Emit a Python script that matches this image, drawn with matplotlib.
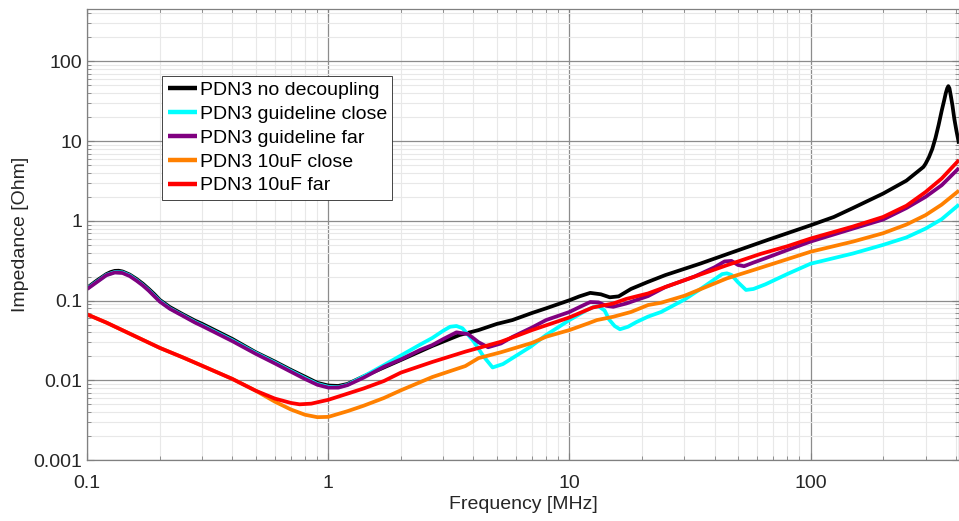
import matplotlib
matplotlib.use("Agg")
import matplotlib.pyplot as plt
from matplotlib.ticker import FixedLocator, LogLocator, NullFormatter, FuncFormatter


# values (frequency in MHz, impedance in Ohm)
NODEC_F = [0.1, 0.11, 0.12, 0.125, 0.13, 0.135, 0.14, 0.15, 0.16, 0.17, 0.18, 0.19, 0.2,
           0.22, 0.25, 0.28, 0.3, 0.4, 0.5, 0.6, 0.7, 0.8, 0.9, 1.0, 1.1, 1.2, 1.4, 1.7,
           2.0, 2.7, 3.5, 4.2, 5.0, 5.8, 7.0, 8.0, 10, 11, 12.2, 13.5, 14.7, 16, 18, 21,
           25, 35, 48, 66, 100, 125, 150, 200, 250, 294, 300, 310, 320, 330, 340, 350,
           358, 364, 369, 373, 377, 382, 388, 395, 403, 413]
NODEC_Z = [0.145, 0.18, 0.215, 0.228, 0.236, 0.237, 0.232, 0.212, 0.187, 0.163, 0.14,
           0.12, 0.102, 0.083, 0.067, 0.056, 0.051, 0.033, 0.0225, 0.0172, 0.0135, 0.0111,
           0.0093, 0.0086, 0.0085, 0.009, 0.0112, 0.0145, 0.018, 0.027, 0.037, 0.0427,
           0.051, 0.057, 0.07, 0.08, 0.101, 0.113, 0.125, 0.12, 0.11, 0.113, 0.14, 0.17,
           0.209, 0.292, 0.409, 0.573, 0.88, 1.12, 1.45, 2.2, 3.2, 4.75, 5.2, 6.3, 8.0,
           11, 16, 24, 32, 40, 46, 49, 46, 37, 28, 19, 13.5, 9.3]

GCLOSE_F = [0.1, 0.12, 0.13, 0.14, 0.15, 0.16, 0.17, 0.18, 0.19, 0.2, 0.22, 0.25, 0.28,
            0.3, 0.4, 0.5, 0.6, 0.7, 0.8, 0.9, 1.0, 1.1, 1.2, 1.4, 1.7, 2.0, 2.4, 2.7, 3.0,
            3.2, 3.4, 3.6, 4.0, 4.4, 4.8, 5.3, 5.8, 6.9, 8.0, 10, 11.8, 12.6, 13.2, 14.0,
            14.6, 15.4, 16.2, 17.5, 19, 21.2, 24, 30, 35, 40, 43, 45, 47, 50, 54, 58, 65,
            80, 100, 150, 200, 250, 300, 350, 413]
GCLOSE_Z = [0.142, 0.21, 0.228, 0.226, 0.207, 0.181, 0.157, 0.135, 0.115, 0.099, 0.08,
            0.065, 0.054, 0.049, 0.0318, 0.022, 0.0167, 0.0131, 0.0107, 0.009, 0.0083,
            0.0082, 0.0088, 0.0112, 0.0155, 0.0205, 0.028, 0.034, 0.042, 0.047, 0.048,
            0.045, 0.031, 0.02, 0.0145, 0.016, 0.019, 0.0264, 0.037, 0.057, 0.076, 0.083,
            0.085, 0.075, 0.058, 0.048, 0.0437, 0.047, 0.054, 0.063, 0.072, 0.103, 0.14,
            0.185, 0.215, 0.22, 0.21, 0.17, 0.136, 0.14, 0.16, 0.215, 0.29, 0.39, 0.5,
            0.62, 0.8, 1.05, 1.6]

GFAR_F = [0.1, 0.12, 0.13, 0.14, 0.15, 0.16, 0.17, 0.18, 0.19, 0.2, 0.22, 0.25, 0.28, 0.3,
          0.4, 0.5, 0.6, 0.7, 0.8, 0.9, 1.0, 1.1, 1.2, 1.4, 1.7, 2.0, 2.4, 2.7, 3.0, 3.4,
          3.8, 4.2, 4.6, 5.2, 5.8, 7.0, 8.0, 10, 11.2, 12.2, 13.2, 14.2, 15.2, 17.2, 21.2,
          25, 33, 40, 44, 47, 50, 53, 58, 65, 80, 100, 150, 200, 250, 300, 350, 413]
GFAR_Z = [0.14, 0.208, 0.225, 0.222, 0.203, 0.178, 0.155, 0.133, 0.113, 0.097, 0.079,
          0.064, 0.053, 0.048, 0.031, 0.0215, 0.0163, 0.0128, 0.0104, 0.0088, 0.0081,
          0.0081, 0.0087, 0.0108, 0.0148, 0.0183, 0.024, 0.0277, 0.033, 0.04, 0.038, 0.03,
          0.026, 0.029, 0.035, 0.046, 0.057, 0.072, 0.085, 0.096, 0.095, 0.086, 0.0836,
          0.092, 0.114, 0.148, 0.2, 0.262, 0.31, 0.315, 0.28, 0.27, 0.3, 0.34, 0.43, 0.55,
          0.8, 1.04, 1.45, 2.0, 2.8, 4.6]

CLOSE10U_F = [0.1, 0.12, 0.15, 0.2, 0.25, 0.3, 0.4, 0.5, 0.6, 0.7, 0.8, 0.9, 1.0, 1.2, 1.4,
              1.7, 2.0, 2.7, 3.7, 4.2, 5.2, 7.0, 8.0, 10, 12, 13, 15.2, 18, 21.2, 24, 30,
              45, 60, 100, 150, 200, 250, 300, 350, 413]
CLOSE10U_Z = [0.067, 0.053, 0.0385, 0.0255, 0.0193, 0.0152, 0.0104, 0.0074, 0.0054,
              0.0043, 0.0037, 0.00345, 0.00348, 0.0041, 0.0048, 0.006, 0.0075, 0.011,
              0.0151, 0.019, 0.0225, 0.0295, 0.0352, 0.0427, 0.052, 0.057, 0.0627, 0.072,
              0.088, 0.094, 0.115, 0.19, 0.25, 0.41, 0.55, 0.7, 0.9, 1.18, 1.6, 2.4]

FAR10U_F = [0.1, 0.12, 0.15, 0.2, 0.25, 0.3, 0.4, 0.5, 0.6, 0.7, 0.76, 0.85, 1.0, 1.2, 1.4,
            1.7, 2.0, 2.7, 3.7, 5.2, 7.0, 10, 12.5, 15.2, 17.2, 21.2, 25, 33, 45, 52.5, 62,
            80, 100, 150, 200, 250, 300, 350, 413]
FAR10U_Z = [0.067, 0.053, 0.0385, 0.0255, 0.0193, 0.0152, 0.0104, 0.0074, 0.0059, 0.0052,
            0.005, 0.0051, 0.0057, 0.0068, 0.0079, 0.0098, 0.0125, 0.017, 0.0229, 0.0305,
            0.0427, 0.0615, 0.082, 0.092, 0.105, 0.123, 0.148, 0.2, 0.278, 0.325, 0.385,
            0.48, 0.6, 0.85, 1.12, 1.55, 2.3, 3.4, 5.8]

SERIES = [
    ("PDN3 no decoupling", NODEC_F, NODEC_Z, "#000000"),
    ("PDN3 guideline close", GCLOSE_F, GCLOSE_Z, "#00ffff"),
    ("PDN3 guideline far", GFAR_F, GFAR_Z, "#800080"),
    ("PDN3 10uF close", CLOSE10U_F, CLOSE10U_Z, "#ff8000"),
    ("PDN3 10uF far", FAR10U_F, FAR10U_Z, "#ff0000"),
]

X_TICKS = [0.1, 1, 10, 100]
Y_TICKS = [0.001, 0.01, 0.1, 1, 10, 100]


def style_axes(ax):
    ax.set_xscale("log")
    ax.set_yscale("log")
    ax.set_xlim(0.1, 413)
    ax.set_ylim(0.001, 450)

    fmt = FuncFormatter(lambda v, _: f"{v:g}")
    ax.xaxis.set_major_locator(FixedLocator(X_TICKS))
    ax.yaxis.set_major_locator(FixedLocator(Y_TICKS))
    ax.xaxis.set_major_formatter(fmt)
    ax.yaxis.set_major_formatter(fmt)
    for axis in (ax.xaxis, ax.yaxis):
        axis.set_minor_locator(LogLocator(base=10, subs=range(2, 10), numticks=20))
        axis.set_minor_formatter(NullFormatter())

    ax.grid(which="major", color="#8c8c8c", linewidth=0.9)
    ax.grid(which="minor", color="#e8e8e8", linewidth=0.8)
    ax.set_axisbelow(True)

    for spine in ax.spines.values():
        spine.set_color("#808080")
        spine.set_linewidth(0.9)
    ax.tick_params(which="both", direction="in", top=True, right=True,
                   colors="#808080", labelcolor="#262626", labelsize=14)
    ax.tick_params(which="major", length=5)
    ax.tick_params(which="minor", length=3)
    ax.tick_params(axis="x", which="major", pad=11)

    ax.set_xlabel("Frequency [MHz]", fontsize=14, color="#262626", labelpad=3)
    ax.set_ylabel("Impedance [Ohm]", fontsize=14, color="#262626", labelpad=3)


def main():
    plt.rcParams["font.family"] = ["Liberation Sans", "DejaVu Sans"]
    fig = plt.figure(figsize=(9.59, 5.21), dpi=100)
    ax = fig.add_axes([0.091, 0.117, 0.909, 0.865])

    for label, freq, imp, color in SERIES:
        ax.plot(freq, imp, color=color, linewidth=2.7, label=label,
                solid_joinstyle="round", solid_capstyle="butt")

    style_axes(ax)

    leg = ax.legend(loc="upper left", bbox_to_anchor=(0.086, 0.852), fontsize=14,
                    frameon=True, fancybox=False, framealpha=1, edgecolor="#262626",
                    borderpad=0.28, labelspacing=0.32, handlelength=1.5,
                    handletextpad=0.15, borderaxespad=0)
    leg.get_frame().set_linewidth(0.6)
    for line in leg.get_lines():
        line.set_linewidth(3.2)

    fig.savefig("out.png", dpi=100)
    plt.close(fig)


if __name__ == "__main__":
    main()
